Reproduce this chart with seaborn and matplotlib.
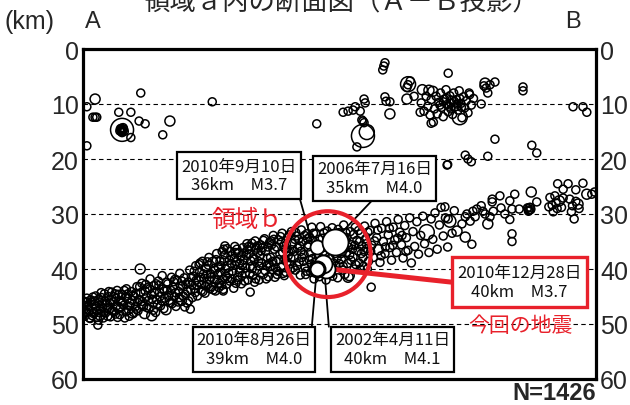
import pandas as pd
import matplotlib
matplotlib.use("Agg")
import matplotlib.pyplot as plt
import seaborn as sns
from matplotlib.patches import Rectangle, Circle

# hypocentres: (distance along A-B [km], depth [km], magnitude)
band_west = [
    (0.2, 47.3, 1.5), (0.3, 48.6, 1.2), (0.5, 46.1, 1.6), (0.8, 47.9, 0.8), (1.0, 46.8, 1.4),
    (1.2, 48.9, 1.7), (1.4, 45.6, 1.3), (1.6, 47.2, 2.2), (1.9, 48.1, 1.5), (2.1, 46.4, 1.1),
    (2.3, 44.9, 1.6), (2.5, 47.6, 1.4), (2.8, 49.3, 1.8), (3.0, 46.0, 1.5), (3.1, 48.4, 2.4),
    (3.4, 45.2, 1.3), (3.6, 47.0, 1.6), (3.9, 44.5, 1.2), (4.1, 48.0, 1.5), (4.3, 46.5, 2.1),
    (4.6, 45.0, 1.4), (4.8, 47.4, 1.7), (5.0, 48.7, 1.3), (5.2, 44.2, 1.9), (5.5, 46.0, 1.5),
    (5.7, 47.8, 1.2), (6.0, 45.3, 1.6), (6.2, 43.9, 1.4), (6.4, 47.0, 2.6), (6.7, 48.3, 1.5),
    (6.9, 45.8, 1.3), (7.1, 44.6, 1.7), (7.4, 46.6, 1.4), (7.6, 48.9, 1.5), (7.9, 43.6, 1.2),
    (8.1, 45.4, 1.8), (8.3, 47.5, 1.6), (8.6, 46.2, 1.1), (8.8, 44.1, 1.5), (9.0, 48.0, 2.3),
    (9.3, 45.0, 1.4), (9.5, 46.9, 1.6), (9.8, 43.2, 1.3), (10.0, 47.6, 1.5), (2.7, 50.2, 1.6),
    (10.2, 45.5, 1.7), (10.5, 44.3, 1.2), (10.7, 42.6, 1.5), (11.0, 46.8, 1.4), (11.2, 48.1, 2.5),
    (11.5, 45.1, 1.6), (11.7, 43.4, 1.3), (12.0, 47.2, 1.5), (12.2, 41.8, 1.8), (12.4, 44.7, 1.4),
    (12.7, 46.0, 2.1), (12.9, 43.0, 1.5), (13.2, 47.9, 1.2), (13.4, 45.6, 1.6), (13.7, 42.2, 1.4),
    (13.9, 44.2, 1.7), (14.1, 46.7, 1.5), (14.4, 41.2, 1.3), (14.6, 43.6, 1.6), (14.9, 45.3, 1.4),
    (15.1, 47.4, 2.7), (15.4, 42.7, 1.5), (15.6, 44.8, 1.2), (15.9, 46.1, 1.6), (16.1, 41.5, 1.4),
    (16.4, 43.3, 1.8), (16.6, 45.0, 1.5), (16.9, 46.8, 1.3), (17.1, 42.0, 1.6), (17.4, 44.1, 1.5),
    (17.6, 40.8, 1.4), (17.9, 45.7, 2.2), (18.1, 43.0, 1.5), (18.4, 41.6, 1.7), (18.6, 44.6, 1.3),
    (18.9, 46.2, 1.5), (19.1, 42.4, 1.6), (19.4, 40.2, 1.4), (19.6, 43.8, 1.5), (19.9, 45.2, 1.2),
    (10.4, 40.0, 2.3), (12.5, 48.5, 2.4), (19.5, 47.3, 1.6),
    (0.4, 45.9, 1.3), (0.6, 48.0, 1.6), (0.9, 46.5, 1.2), (1.1, 47.6, 1.8), (1.3, 49.0, 1.4),
    (1.5, 46.0, 1.5), (1.8, 45.1, 1.3), (2.0, 47.9, 1.7), (2.4, 46.8, 1.2), (2.6, 48.8, 1.5),
    (2.9, 45.5, 1.6), (3.2, 47.3, 1.1), (3.5, 46.3, 1.8), (3.7, 48.9, 1.4), (4.0, 45.8, 1.5),
    (4.4, 47.1, 1.3), (4.7, 44.1, 1.6), (4.9, 46.2, 1.2), (5.3, 47.6, 1.7), (5.6, 45.0, 1.5),
    (5.9, 48.2, 1.4), (6.1, 46.7, 1.3), (6.5, 44.6, 1.6), (6.8, 47.1, 1.5), (7.2, 45.9, 1.2),
    (7.5, 43.9, 1.8), (7.8, 47.8, 1.4), (8.2, 44.5, 1.5), (8.5, 46.8, 1.3), (8.9, 45.7, 1.6),
    (9.2, 47.9, 1.5), (9.6, 44.4, 1.4), (9.9, 46.0, 1.7), (10.3, 43.2, 1.3), (10.8, 45.9, 1.5),
    (11.3, 44.0, 1.6), (11.6, 47.0, 1.2), (12.1, 43.6, 1.5), (12.6, 45.5, 1.4), (13.0, 44.3, 1.8),
    (13.5, 46.4, 1.5), (13.8, 43.0, 1.3), (14.3, 45.8, 1.6), (14.8, 44.0, 1.5), (15.2, 42.4, 1.4),
    (15.7, 45.7, 1.2), (16.0, 43.9, 1.7), (16.5, 42.3, 1.5), (16.8, 44.3, 1.3), (17.3, 46.0, 1.6),
    (17.7, 43.1, 1.5), (18.2, 44.9, 1.4), (18.7, 42.8, 1.5), (19.2, 45.8, 1.6), (19.7, 41.5, 1.3),
    (0.1, 46.6, 1.4), (0.7, 45.3, 1.7), (1.7, 48.5, 1.3), (2.2, 45.8, 1.5), (3.3, 44.3, 1.6),
    (3.8, 47.9, 1.2), (4.5, 48.6, 1.5), (5.1, 45.6, 1.4), (5.8, 44.5, 1.6), (6.3, 48.8, 1.3),
    (7.0, 46.2, 1.5), (7.7, 45.1, 1.7), (8.4, 48.6, 1.4), (9.1, 44.8, 1.5), (9.7, 47.3, 1.3),
    (10.6, 46.5, 1.6), (11.4, 42.8, 1.5), (11.9, 45.7, 1.4), (12.8, 47.5, 1.6), (13.3, 42.7, 1.2),
    (14.0, 45.0, 1.5), (14.7, 47.2, 1.4), (15.3, 43.8, 1.7), (16.2, 46.3, 1.5), (16.7, 41.9, 1.3),
    (17.5, 45.2, 1.6), (18.0, 42.2, 1.5), (18.5, 46.9, 1.4), (19.0, 44.0, 1.5), (19.8, 42.9, 1.6),
]
band_mid = [
    (20.1, 41.3, 1.5), (20.3, 43.6, 1.7), (20.5, 39.4, 1.3), (20.8, 44.9, 1.5), (21.0, 42.2, 2.0),
    (21.2, 40.5, 1.4), (21.5, 43.9, 1.6), (21.7, 38.6, 1.5), (22.0, 41.7, 1.3), (22.2, 44.4, 1.5),
    (22.4, 39.9, 1.7), (22.7, 42.8, 1.4), (22.9, 37.9, 1.5), (23.2, 40.9, 1.6), (23.4, 43.2, 1.2),
    (23.6, 38.8, 2.4), (23.9, 41.9, 1.5), (24.1, 44.0, 1.4), (24.3, 37.2, 1.6), (24.6, 39.7, 1.5),
    (24.8, 42.6, 1.3), (25.0, 40.6, 1.7), (25.3, 36.8, 1.5), (25.5, 43.7, 1.4), (25.7, 38.5, 1.6),
    (26.0, 41.3, 1.5), (26.2, 36.3, 1.3), (26.4, 39.5, 2.1), (26.7, 42.2, 1.5), (26.9, 37.6, 1.6),
    (27.2, 40.4, 1.4), (27.4, 43.5, 1.5), (27.6, 35.9, 1.7), (27.9, 38.7, 1.5), (28.1, 41.5, 1.3),
    (28.3, 37.0, 1.6), (28.6, 39.9, 1.4), (28.8, 42.7, 1.5), (29.1, 36.1, 1.2), (29.3, 38.3, 1.6),
    (29.5, 40.8, 1.5), (29.8, 35.4, 1.4), (30.0, 42.0, 1.7), (20.6, 42.0, 1.2), (21.4, 41.5, 1.4),
    (22.5, 41.0, 1.6), (23.0, 42.0, 1.3), (24.0, 40.2, 1.5), (24.9, 38.6, 1.2), (25.9, 40.0, 1.6),
    (26.6, 38.4, 1.4), (27.6, 39.3, 1.3), (28.4, 40.6, 1.5), (29.0, 39.2, 1.4), (29.7, 37.5, 1.6),
    (30.4, 44.2, 1.6), (25.8, 35.8, 1.5), (25.5, 44.0, 1.4),
    (30.2, 37.3, 1.5), (30.4, 39.6, 1.4), (30.6, 36.0, 1.6), (30.9, 41.2, 1.3), (31.1, 38.2, 1.5),
    (31.3, 34.9, 1.7), (31.6, 40.3, 1.4), (31.8, 37.0, 1.5), (32.0, 42.0, 1.2), (32.3, 35.6, 1.6),
    (32.5, 38.9, 1.5), (32.7, 40.8, 2.2), (33.0, 34.5, 1.4), (33.2, 36.8, 1.5), (33.4, 39.4, 1.6),
    (33.7, 41.4, 1.3), (33.9, 35.2, 1.5), (34.1, 37.9, 1.4), (34.4, 40.1, 1.7), (34.6, 33.9, 1.5),
    (34.8, 36.4, 1.3), (35.1, 38.6, 1.6), (35.3, 41.0, 1.4), (35.5, 34.7, 1.5), (35.8, 37.3, 1.5),
    (36.0, 39.7, 1.2), (36.2, 33.5, 1.6), (36.5, 35.9, 1.4), (36.7, 38.2, 1.5), (36.9, 40.6, 1.7),
    (37.2, 34.3, 1.3), (37.4, 36.9, 1.5), (37.6, 39.1, 1.6), (37.9, 33.2, 1.4), (38.1, 35.4, 1.5),
    (38.3, 37.8, 2.0), (38.6, 40.2, 1.3), (38.8, 34.0, 1.5), (39.0, 36.2, 1.6), (39.3, 38.7, 1.4),
    (39.5, 41.1, 1.5), (39.7, 32.9, 1.2), (40.0, 35.0, 1.6), (40.2, 37.4, 1.5), (40.4, 39.8, 1.4),
    (40.7, 33.6, 1.5), (40.9, 36.0, 1.7), (41.1, 38.3, 1.3), (41.4, 40.6, 1.5), (41.6, 32.4, 1.6),
    (41.8, 34.8, 1.4), (42.0, 41.8, 1.5), (30.5, 38.5, 1.3), (31.5, 36.2, 1.2), (32.2, 37.6, 1.4),
    (33.5, 38.0, 1.3), (34.3, 35.6, 1.6), (35.0, 39.8, 1.2), (36.3, 37.0, 1.5), (37.0, 35.5, 1.4),
    (37.8, 38.0, 1.3), (38.4, 36.8, 1.6), (39.2, 34.6, 1.4), (40.1, 38.6, 1.5), (40.8, 34.5, 1.2),
    (41.3, 37.0, 1.6),
    (20.2, 40.4, 1.4), (20.7, 43.0, 1.6), (21.1, 39.2, 1.5), (21.6, 42.8, 1.3), (21.9, 40.9, 1.7),
    (22.3, 43.1, 1.5), (22.8, 39.3, 1.2), (23.3, 41.5, 1.6), (23.7, 43.8, 1.4), (24.2, 38.3, 1.5),
    (24.5, 41.0, 1.3), (24.7, 43.4, 1.8), (25.1, 39.4, 1.5), (25.4, 41.9, 1.4), (25.8, 37.4, 1.6),
    (26.1, 42.8, 1.2), (26.5, 40.7, 1.5), (26.8, 36.8, 1.4), (27.1, 41.8, 1.6), (27.5, 38.0, 1.5),
    (27.8, 42.6, 1.3), (28.0, 36.4, 1.7), (28.5, 38.9, 1.5), (28.9, 41.2, 1.4), (29.2, 37.1, 1.6),
    (29.6, 39.8, 1.2), (29.9, 36.5, 1.5), (30.3, 40.9, 1.4), (30.7, 35.3, 1.6), (31.0, 37.9, 1.5),
    (31.4, 41.8, 1.3), (31.7, 35.8, 1.8), (32.1, 39.5, 1.5), (32.4, 36.7, 1.4), (32.8, 34.8, 1.6),
    (33.1, 40.3, 1.5), (33.6, 36.0, 1.2), (33.8, 39.0, 1.5), (34.2, 34.9, 1.4), (34.5, 38.6, 1.6),
    (34.9, 41.5, 1.3), (35.2, 36.0, 1.5), (35.6, 38.3, 1.7), (35.9, 34.1, 1.4), (36.4, 40.8, 1.5),
    (36.8, 36.4, 1.6), (37.1, 38.7, 1.2), (37.5, 33.8, 1.5), (37.7, 40.1, 1.4), (38.0, 36.5, 1.6),
    (38.5, 34.6, 1.5), (38.9, 39.4, 1.3), (39.4, 35.8, 1.5), (39.8, 37.9, 1.4), (40.3, 33.9, 1.6),
    (40.6, 40.4, 1.5), (41.0, 35.6, 1.2), (41.5, 39.1, 1.5), (41.9, 33.5, 1.4),
    (20.4, 44.3, 1.5), (21.3, 38.9, 1.4), (21.8, 44.1, 1.6), (22.6, 38.7, 1.3), (23.1, 43.6, 1.5),
    (23.8, 39.9, 1.7), (24.4, 42.0, 1.4), (25.2, 43.0, 1.5), (25.6, 36.4, 1.6), (26.3, 41.7, 1.3),
    (27.0, 39.0, 1.5), (27.7, 37.0, 1.4), (28.2, 42.0, 1.6), (28.7, 37.8, 1.5), (29.4, 42.2, 1.2),
    (30.1, 35.9, 1.5), (30.8, 39.9, 1.7), (31.2, 42.4, 1.4), (31.9, 38.6, 1.5), (32.6, 36.1, 1.6),
    (33.3, 41.8, 1.3), (34.0, 39.6, 1.5), (34.7, 34.6, 1.4), (35.4, 40.4, 1.6), (36.1, 35.1, 1.5),
    (36.6, 41.2, 1.3), (37.3, 37.6, 1.5), (38.2, 39.8, 1.6), (38.7, 33.4, 1.4), (39.6, 36.8, 1.5),
    (40.5, 41.0, 1.2), (41.2, 34.2, 1.5), (41.7, 38.1, 1.6),
]
band_core = [
    (42.3, 33.6, 1.5), (42.5, 35.5, 1.4), (42.8, 37.8, 1.6), (43.0, 41.4, 1.3), (43.2, 32.3, 1.5),
    (43.5, 34.4, 1.7), (43.7, 36.8, 1.4), (43.9, 38.9, 1.5), (44.2, 42.0, 1.2), (44.4, 33.1, 1.6),
    (44.6, 35.9, 1.5), (44.9, 38.1, 1.4), (45.1, 40.8, 1.6), (45.3, 32.5, 1.5), (45.6, 34.2, 1.3),
    (45.8, 37.2, 1.5), (46.0, 39.5, 1.6), (46.3, 41.6, 1.4), (46.5, 33.4, 1.5), (46.7, 36.0, 1.7),
    (47.0, 38.3, 1.4), (47.2, 40.2, 1.5), (47.4, 32.0, 1.3), (47.7, 34.6, 1.6), (47.9, 37.0, 1.5),
    (48.1, 39.0, 1.4), (48.4, 41.2, 2.1), (48.6, 33.2, 1.5), (48.8, 35.6, 1.6), (49.1, 37.8, 1.3),
    (49.3, 40.0, 1.5), (49.5, 32.4, 1.4), (49.8, 34.8, 1.6), (50.0, 36.7, 1.5), (50.2, 38.9, 1.2),
    (50.5, 33.6, 1.5), (50.7, 35.8, 1.7), (50.9, 37.9, 1.4), (51.2, 32.2, 1.5), (51.4, 34.5, 1.6),
    (51.6, 36.3, 1.3), (51.9, 38.6, 1.5), (43.3, 39.8, 1.4), (44.0, 37.5, 1.2), (45.0, 36.5, 1.5),
    (46.2, 38.0, 1.3), (47.5, 36.2, 1.6), (48.0, 34.3, 1.2), (49.0, 36.4, 1.5), (50.3, 35.0, 1.4),
    (42.6, 40.0, 1.5), (44.8, 40.9, 1.3), (48.2, 41.5, 2.4),
    (42.4, 36.6, 1.5), (42.9, 34.6, 1.3), (43.4, 38.2, 1.6), (43.8, 33.4, 1.5), (44.3, 35.0, 1.4),
    (44.7, 39.6, 1.5), (45.2, 33.6, 1.7), (45.5, 38.9, 1.4), (45.9, 35.3, 1.5), (46.4, 32.8, 1.2),
    (46.9, 37.2, 1.6), (47.3, 39.5, 1.5), (47.8, 33.4, 1.4), (48.3, 36.0, 1.5), (48.7, 38.4, 1.3),
    (49.2, 33.7, 1.6), (49.6, 39.2, 1.5), (50.1, 33.0, 1.4), (50.6, 37.2, 1.5), (51.0, 39.5, 1.6),
    (51.5, 35.4, 1.3), (51.8, 33.3, 1.5),
    (42.2, 38.7, 1.4), (43.1, 36.0, 1.6), (44.5, 34.3, 1.5), (45.4, 41.3, 1.3), (46.1, 34.8, 1.5),
    (46.6, 39.0, 1.7), (47.6, 41.0, 1.4), (48.5, 37.4, 1.5), (49.4, 35.7, 1.6), (50.4, 40.0, 1.3),
    (51.1, 36.8, 1.5), (51.7, 40.0, 1.4),
]
band_east = [
    (52.2, 33.0, 1.5), (52.5, 35.7, 1.3), (52.8, 37.9, 1.6), (53.1, 31.7, 1.4), (53.4, 34.3, 1.5),
    (53.7, 36.5, 2.2), (54.0, 38.8, 1.5), (54.3, 32.6, 1.6), (54.6, 35.0, 1.4), (54.9, 37.2, 1.5),
    (55.2, 31.4, 1.3), (55.5, 33.8, 1.6), (55.8, 36.1, 1.5), (56.1, 38.4, 1.4), (56.4, 32.4, 1.7),
    (56.7, 34.7, 1.5), (57.0, 37.0, 1.6), (57.3, 31.0, 1.4), (57.6, 33.3, 1.5), (57.9, 35.6, 1.3),
    (58.2, 38.0, 1.5), (58.5, 32.1, 1.6), (58.8, 34.3, 1.4), (59.1, 36.6, 1.5), (59.4, 30.7, 1.6),
    (59.7, 38.9, 1.4), (52.4, 43.3, 1.6),
    (52.3, 36.8, 1.4), (53.0, 34.9, 1.5), (53.6, 32.9, 1.6), (54.2, 37.6, 1.3), (55.0, 36.0, 1.5),
    (55.7, 32.6, 1.4), (56.3, 35.7, 1.6), (57.2, 34.4, 1.5), (58.0, 33.9, 1.2), (58.7, 36.8, 1.5),
    (60.0, 33.2, 1.5), (60.3, 35.9, 1.4), (60.7, 31.4, 1.6), (61.0, 37.3, 1.5), (61.4, 33.9, 1.3),
    (61.8, 30.4, 1.5), (62.1, 35.4, 1.6), (62.5, 33.3, 3.6), (62.9, 37.0, 1.4), (63.3, 30.9, 1.5),
    (63.6, 34.6, 1.6), (64.0, 29.8, 1.5), (64.4, 36.4, 1.4), (64.8, 32.0, 1.5), (65.1, 28.8, 1.6),
    (65.5, 34.0, 1.5), (65.9, 30.7, 1.4), (66.3, 36.0, 1.5), (66.7, 31.3, 3.2), (67.1, 33.5, 1.6),
    (67.5, 29.4, 1.5), (65.8, 28.7, 1.5), (66.4, 30.9, 1.5),
]
band_far = [
    (69.5, 30.5, 1.5), (70.4, 31.3, 1.6), (71.3, 30.5, 1.4), (68.9, 31.8, 1.5), (68.0, 33.1, 2.5),
    (69.5, 34.2, 2.5), (70.7, 35.5, 1.6), (71.6, 29.1, 1.5), (72.7, 29.5, 1.5), (73.6, 31.8, 2.4),
    (74.0, 30.5, 1.5), (74.4, 27.3, 1.5), (74.4, 27.8, 1.4), (74.6, 29.5, 1.5), (76.0, 28.9, 1.6),
    (76.7, 30.0, 1.5), (77.6, 27.6, 1.5), (78.0, 29.1, 1.4), (78.5, 26.4, 1.5), (78.0, 33.6, 1.5),
    (78.0, 35.0, 1.5), (77.6, 31.0, 1.5), (79.3, 29.1, 1.6), (80.8, 28.9, 1.5), (81.1, 29.3, 1.5),
    (81.3, 28.8, 1.4), (81.0, 29.5, 1.6), (81.4, 29.2, 1.3), (81.2, 29.0, 2.2), (81.5, 26.0, 2.4),
    (82.5, 27.8, 1.5), (84.9, 27.0, 1.5), (85.3, 28.4, 1.6), (85.8, 26.7, 1.4), (86.2, 29.0, 1.5),
    (86.6, 27.6, 2.3), (87.0, 28.8, 1.5), (85.5, 29.6, 1.4), (86.0, 28.0, 1.3), (87.3, 27.1, 1.6),
    (84.7, 28.7, 1.5), (86.3, 24.5, 1.5), (87.3, 25.5, 1.5), (88.2, 24.5, 1.5), (89.6, 25.6, 1.6),
    (90.9, 24.4, 1.5), (89.3, 30.9, 1.5), (88.5, 27.3, 1.5), (89.0, 28.5, 1.6), (89.6, 27.7, 1.4),
    (90.2, 29.0, 1.5), (88.8, 29.6, 1.3), (90.0, 28.2, 2.2), (91.6, 26.4, 2.4), (92.5, 26.4, 1.5),
    (93.0, 26.0, 1.5), (75.8, 26.7, 1.5), (72.4, 28.5, 1.6), (73.1, 30.0, 1.5), (69.8, 30.0, 1.5),
    (70.9, 29.5, 1.4),
]
shallow_west = [
    (2.2, 9.1, 2.4), (0.7, 10.5, 1.5), (10.5, 8.0, 1.5), (6.5, 11.5, 1.5), (8.7, 11.5, 1.5),
    (1.8, 12.4, 1.4), (2.2, 12.4, 1.5), (2.5, 12.4, 1.4), (10.2, 13.1, 1.5), (11.3, 13.6, 1.5),
    (15.8, 13.1, 2.4), (14.5, 15.6, 1.5), (23.5, 9.6, 1.5), (0.7, 17.6, 1.5), (7.1, 14.7, 4.1),
    (6.8, 14.5, 1.5), (7.2, 14.9, 1.5), (7.0, 15.0, 1.4), (7.4, 14.6, 1.6), (6.9, 14.8, 1.3),
    (7.3, 14.3, 1.5), (7.1, 15.2, 1.4), (6.7, 14.9, 1.5), (7.5, 15.0, 1.4), (7.0, 14.4, 1.6),
    (7.1, 14.7, 0.8), (6.9, 14.6, 0.7), (7.3, 14.9, 0.9), (8.7, 16.1, 1.6),
]
shallow_east = [
    (42.5, 13.6, 1.5), (47.3, 11.5, 1.5), (48.2, 11.3, 1.5), (49.1, 11.1, 1.4), (49.5, 10.5, 1.5),
    (50.4, 11.3, 1.5), (51.1, 9.1, 1.5), (51.3, 9.8, 1.5), (50.9, 15.8, 4.0), (51.6, 15.1, 3.7),
    (50.9, 13.1, 1.5), (51.1, 13.4, 1.4), (50.7, 12.9, 1.5), (49.8, 17.8, 1.5), (55.8, 11.8, 2.4),
    (55.8, 9.6, 1.5), (54.9, 8.7, 1.5), (55.1, 9.5, 1.5), (54.9, 2.5, 1.5), (54.7, 3.1, 1.5),
    (54.5, 3.8, 1.5), (59.1, 6.4, 3.6), (59.5, 5.8, 1.5), (59.1, 6.5, 1.5), (58.9, 7.0, 1.4),
    (58.9, 9.1, 2.4), (66.4, 4.4, 1.5),
    (61.5, 9.8, 1.5), (62.0, 11.3, 1.4), (62.4, 8.6, 1.6), (62.7, 10.4, 1.5), (63.1, 12.0, 1.3),
    (63.3, 9.2, 1.5), (63.6, 7.7, 2.3), (63.9, 10.9, 1.5), (64.2, 8.6, 1.4), (64.4, 11.8, 1.6),
    (64.7, 9.7, 1.5), (65.0, 8.0, 1.5), (65.2, 10.6, 1.4), (65.5, 12.3, 1.5), (65.7, 9.1, 1.6),
    (66.0, 7.4, 1.5), (66.2, 10.1, 1.3), (66.4, 11.4, 1.5), (66.7, 8.5, 1.6), (66.9, 9.8, 1.5),
    (67.2, 11.9, 1.4), (67.4, 8.0, 1.5), (67.7, 10.5, 1.6), (67.9, 9.2, 1.5), (68.2, 11.1, 1.4),
    (68.4, 7.6, 1.5), (68.7, 9.9, 1.6), (68.9, 12.5, 1.5), (69.2, 8.7, 1.4), (69.4, 10.7, 1.5),
    (69.7, 9.4, 1.6), (70.0, 11.6, 1.5), (70.3, 8.3, 1.5), (70.6, 10.2, 1.4), (71.0, 9.0, 1.5),
    (65.5, 9.6, 1.3), (66.1, 9.0, 1.5), (66.9, 10.9, 1.4), (67.5, 9.5, 1.5), (68.0, 10.0, 1.3),
    (68.5, 9.0, 1.5), (67.0, 9.3, 1.6), (66.5, 10.4, 1.5), (64.9, 10.2, 1.4), (68.8, 10.6, 1.5),
    (68.5, 12.4, 3.6), (63.3, 13.5, 1.5), (63.7, 13.3, 1.5), (61.3, 11.5, 1.5), (60.2, 8.6, 1.5),
    (62.9, 7.5, 2.3), (61.7, 7.4, 2.4), (70.2, 8.0, 1.5), (72.4, 10.0, 1.5),
    (73.1, 6.2, 2.4), (72.9, 6.7, 1.5), (73.3, 7.1, 1.5), (74.0, 6.5, 1.5), (74.9, 6.0, 1.5),
    (73.6, 8.0, 1.5), (74.9, 16.4, 1.5), (80.0, 6.9, 1.5), (80.0, 7.6, 1.5), (81.6, 17.5, 1.5),
    (82.5, 18.9, 1.5), (89.1, 10.5, 1.5), (90.9, 10.5, 1.5), (91.6, 11.5, 1.5), (69.5, 19.3, 1.5),
    (70.0, 20.0, 1.5), (70.6, 20.5, 1.5), (66.2, 21.1, 1.5), (66.3, 21.0, 1.3), (73.6, 19.5, 1.5),
]

# labelled earthquakes
hl_label = ["2010年9月10日\n36km　M3.7", "2006年7月16日\n35km　M4.0",
            "2010年8月26日\n39km　M4.0", "2002年4月11日\n40km　M4.1",
            "2010年12月28日\n40km　M3.7"]
hl_x = [42.5, 45.8, 43.6, 44.2, 42.6]
hl_depth = [36, 35, 39, 40, 40]
hl_mag = [3.7, 4.0, 4.0, 4.1, 3.7]
n_events = 1426

RED = "#e8212b"
X_MAX = 513 / 5.5  # same km scale on both axes


def mag_px(m):
    # marker diameter (px) by magnitude class
    if m < 1:
        return 6.5
    if m < 2:
        return 8
    if m < 3:
        return 10
    if m < 3.5:
        return 12
    if m < 4:
        return 15
    return 23


rows = band_west + band_mid + band_core + band_east + band_far + shallow_west + shallow_east
df = pd.DataFrame(rows, columns=["dist", "depth", "mag"])
df["d"] = df["mag"].map(mag_px)
size_map = {d: (d * 0.72) ** 2 for d in df["d"].unique()}

sns.set_theme(style="white")
plt.rcParams["font.family"] = ["Liberation Sans", "Noto Sans CJK JP", "DejaVu Sans"]
JP = ["Noto Sans CJK JP", "DejaVu Sans"]

fig = plt.figure(figsize=(6.3, 4.06), dpi=100)
ax = fig.add_axes([83 / 630, 1 - 380 / 406, 513 / 630, 330 / 406])

for d in [10, 20, 30, 40, 50]:
    ax.axhline(d, color="black", lw=0.8, ls=(0, (4, 3)), zorder=1)

sns.scatterplot(data=df, x="dist", y="depth", size="d", sizes=size_map, legend=False,
                facecolors="none", edgecolor="black", linewidth=1.1, ax=ax, zorder=2)

# connector lines from boxes to events
ax.plot([39.45, 41.6], [27.3, 35.0], color="black", lw=1.3, zorder=3)
ax.plot([52.5, 47.3], [27.6, 33.1], color="black", lw=1.3, zorder=3)
ax.plot([41.6, 42.4], [50.5, 41.3], color="black", lw=1.3, zorder=3)
ax.plot([44.7, 44.0], [50.5, 41.6], color="black", lw=1.3, zorder=3)
ax.plot([43.0, 67.1], [39.8, 42.4], color=RED, lw=3.6, zorder=3, solid_capstyle="butt")

# labelled events, drawn white on top of the cloud
hl_diam = [14, 26, 18, 18, 15]
order = [3, 2, 0, 1, 4]
for i in order:
    ax.scatter(hl_x[i], hl_depth[i], s=(hl_diam[i] * 0.72) ** 2, facecolor="white",
               edgecolor="black", linewidth=2.2 if i == 4 else 1.3, zorder=4)

ax.add_patch(Circle((44.5, 37.3), 7.8, fill=False, ec=RED, lw=3, zorder=5))

# label boxes: (x0, depth0, width, height)
boxes = [(17.1, 18.7, 22.5, 8.6), (41.8, 19.45, 22.4, 8.15), (20.0, 50.5, 22.2, 8.2),
         (45.1, 50.5, 22.4, 8.2), (67.1, 37.8, 24.5, 9.1)]
for i, (x0, y0, w, h) in enumerate(boxes):
    red = i == 4
    ax.add_patch(Rectangle((x0, y0), w, h, facecolor="white", edgecolor=RED if red else "black",
                           lw=2.4 if red else 1.6, zorder=6))
    ax.text(x0 + w / 2, y0 + h / 2, hl_label[i], ha="center", va="center", fontsize=12,
            family=JP, linespacing=1.15, color="#111111", zorder=7)

ax.text(29.8, 30.9, "領域ｂ", color=RED, fontsize=17, ha="center", va="center", family=JP, zorder=7)
ax.text(79.6, 50.2, "今回の地震", color=RED, fontsize=15, ha="center", va="center", family=JP, zorder=7)

ax.set_xlim(0, X_MAX)
ax.set_ylim(60, 0)
ax.set_xticks([])
ax.set_yticks(range(0, 61, 10))
ax.set_xlabel("")
ax.set_ylabel("")
ax.tick_params(axis="y", length=0, labelsize=18, labelright=True, pad=3)
for sp in ax.spines.values():
    sp.set_visible(True)
    sp.set_color("black")
    sp.set_linewidth(2.3)

fig.text(341 / 630, 1 - 10 / 406, "領域ａ内の断面図（Ａ－Ｂ投影）", ha="center", va="baseline",
         fontsize=19, family=JP)
fig.text(5 / 630, 1 - 22 / 406, "(km)", ha="left", va="center", fontsize=18)
fig.text(93 / 630, 1 - 22 / 406, "A", ha="center", va="center", fontsize=17)
fig.text(573 / 630, 1 - 22 / 406, "B", ha="center", va="center", fontsize=17)
fig.text(596 / 630, 1 - 394 / 406, f"N={n_events}", ha="right", va="center",
         fontsize=17, fontweight="bold")

fig.savefig("out.png", dpi=100, facecolor="white")
